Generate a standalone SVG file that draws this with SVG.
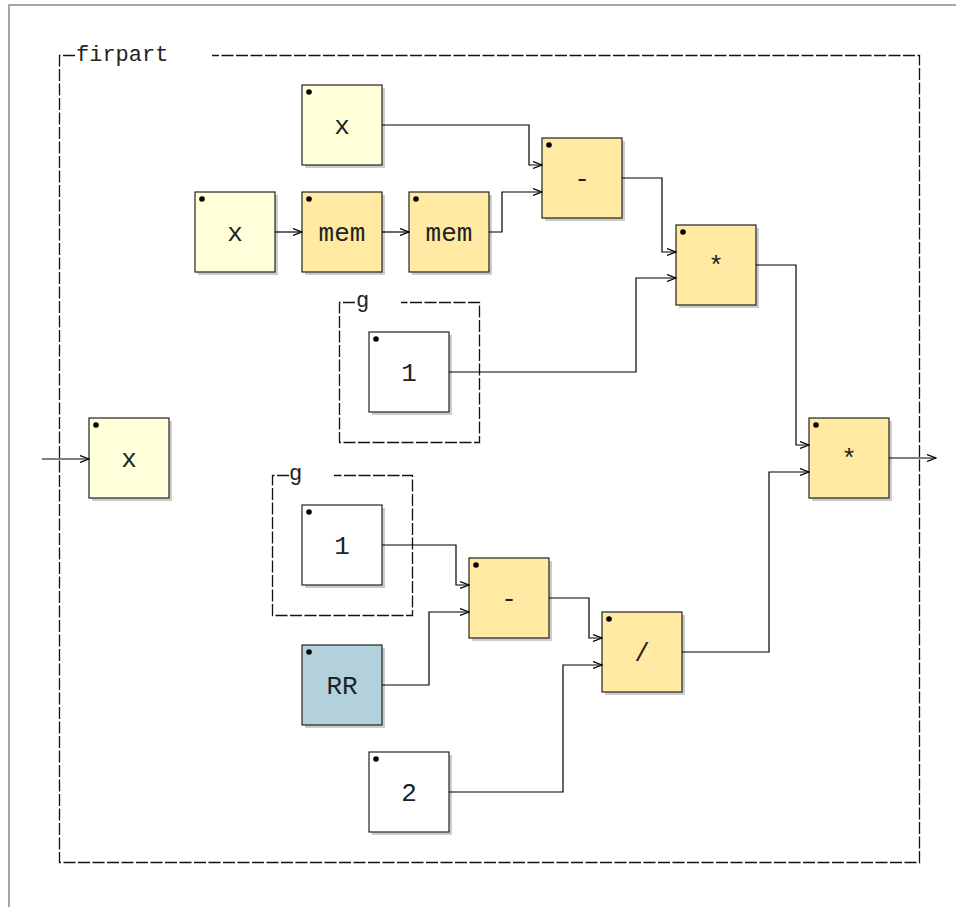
<svg xmlns="http://www.w3.org/2000/svg" width="956" height="907" viewBox="0 0 956 907">
<defs>
<marker id="ar" markerWidth="10" markerHeight="8" refX="9" refY="4" orient="auto" markerUnits="userSpaceOnUse">
<path d="M0,0.5 L9,4 L0,7.5" fill="none" stroke="#000" stroke-width="1.2"/>
</marker>
</defs>
<style>
.sh{fill:#cccccc;stroke:none}
.bx{stroke:#222;stroke-width:1.2}
.in{fill:#ffffda}
.op{fill:#ffe9a3}
.num{fill:#ffffff}
.ui{fill:#b3d1dc}
.dot{fill:#000}
.lb{font-family:"Liberation Mono",monospace;font-size:26px;text-anchor:middle;fill:#222}
.fl{font-family:"Liberation Mono",monospace;font-size:22px;fill:#222}
.fr{fill:none;stroke:#111;stroke-width:1.3;stroke-dasharray:12,2.5}
.w{fill:none;stroke:#000;stroke-width:1.2}
</style>
<rect x="0" y="0" width="956" height="907" fill="#ffffff"/>
<rect x="9" y="5" width="960" height="920" fill="none" stroke="#888" stroke-width="1.5"/>
<g id="frame-firpart">
<path class="fr" d="M75,55.5 H59.5 V862.5 H919.5 V55.5 H212"/>
<text class="fl" x="76" y="61">firpart</text>
</g>
<g id="frame-g1">
<path class="fr" d="M355,302.5 H339.5 V442.5 H479.5 V302.5 H401"/>
<text class="fl" x="356" y="307">g</text>
</g>
<g id="frame-g2">
<path class="fr" d="M289,475.5 H272.5 V615.5 H412.5 V475.5 H334"/>
<text class="fl" x="289" y="480">g</text>
</g>
<g id="n-x-in">
<rect class="sh" x="92" y="421" width="80" height="80"/>
<rect class="bx in" x="89" y="418" width="80" height="80"/>
<circle class="dot" cx="96" cy="425" r="2.8"/>
<text class="lb" x="129" y="467">x</text>
</g>
<g id="n-x-top">
<rect class="sh" x="305" y="88" width="80" height="80"/>
<rect class="bx in" x="302" y="85" width="80" height="80"/>
<circle class="dot" cx="309" cy="92" r="2.8"/>
<text class="lb" x="342" y="134">x</text>
</g>
<g id="n-x-mid">
<rect class="sh" x="198" y="195" width="80" height="80"/>
<rect class="bx in" x="195" y="192" width="80" height="80"/>
<circle class="dot" cx="202" cy="199" r="2.8"/>
<text class="lb" x="235" y="241">x</text>
</g>
<g id="n-mem1">
<rect class="sh" x="305" y="195" width="80" height="80"/>
<rect class="bx op" x="302" y="192" width="80" height="80"/>
<circle class="dot" cx="309" cy="199" r="2.8"/>
<text class="lb" x="342" y="241">mem</text>
</g>
<g id="n-mem2">
<rect class="sh" x="412" y="195" width="80" height="80"/>
<rect class="bx op" x="409" y="192" width="80" height="80"/>
<circle class="dot" cx="416" cy="199" r="2.8"/>
<text class="lb" x="449" y="241">mem</text>
</g>
<g id="n-sub1">
<rect class="sh" x="545" y="141" width="80" height="80"/>
<rect class="bx op" x="542" y="138" width="80" height="80"/>
<circle class="dot" cx="549" cy="145" r="2.8"/>
<text class="lb" x="582" y="187">-</text>
</g>
<g id="n-mul1">
<rect class="sh" x="679" y="228" width="80" height="80"/>
<rect class="bx op" x="676" y="225" width="80" height="80"/>
<circle class="dot" cx="683" cy="232" r="2.8"/>
<text class="lb" x="716" y="274">*</text>
</g>
<g id="n-one1">
<rect class="sh" x="372" y="335" width="80" height="80"/>
<rect class="bx num" x="369" y="332" width="80" height="80"/>
<circle class="dot" cx="376" cy="339" r="2.8"/>
<text class="lb" x="409" y="381">1</text>
</g>
<g id="n-one2">
<rect class="sh" x="305" y="508" width="80" height="80"/>
<rect class="bx num" x="302" y="505" width="80" height="80"/>
<circle class="dot" cx="309" cy="512" r="2.8"/>
<text class="lb" x="342" y="554">1</text>
</g>
<g id="n-rr">
<rect class="sh" x="305" y="648" width="80" height="80"/>
<rect class="bx ui" x="302" y="645" width="80" height="80"/>
<circle class="dot" cx="309" cy="652" r="2.8"/>
<text class="lb" x="342" y="694">RR</text>
</g>
<g id="n-two">
<rect class="sh" x="372" y="755" width="80" height="80"/>
<rect class="bx num" x="369" y="752" width="80" height="80"/>
<circle class="dot" cx="376" cy="759" r="2.8"/>
<text class="lb" x="409" y="801">2</text>
</g>
<g id="n-sub2">
<rect class="sh" x="472" y="561" width="80" height="80"/>
<rect class="bx op" x="469" y="558" width="80" height="80"/>
<circle class="dot" cx="476" cy="565" r="2.8"/>
<text class="lb" x="509" y="607">-</text>
</g>
<g id="n-div">
<rect class="sh" x="605" y="615" width="80" height="80"/>
<rect class="bx op" x="602" y="612" width="80" height="80"/>
<circle class="dot" cx="609" cy="619" r="2.8"/>
<text class="lb" x="642" y="661">/</text>
</g>
<g id="n-mul2">
<rect class="sh" x="812" y="421" width="80" height="80"/>
<rect class="bx op" x="809" y="418" width="80" height="80"/>
<circle class="dot" cx="816" cy="425" r="2.8"/>
<text class="lb" x="849" y="467">*</text>
</g>
<g id="connectors">
<path class="w" marker-end="url(#ar)" d="M42,459 H89"/>
<path class="w" marker-end="url(#ar)" d="M382,125 H529 V165 H542"/>
<path class="w" marker-end="url(#ar)" d="M275,232 H302"/>
<path class="w" marker-end="url(#ar)" d="M382,232 H409"/>
<path class="w" marker-end="url(#ar)" d="M489,232 H502 V192 H542"/>
<path class="w" marker-end="url(#ar)" d="M622,178 H662 V252 H676"/>
<path class="w" marker-end="url(#ar)" d="M449,372 H636 V278 H676"/>
<path class="w" marker-end="url(#ar)" d="M756,265 H796 V445 H809"/>
<path class="w" marker-end="url(#ar)" d="M382,545 H456 V585 H469"/>
<path class="w" marker-end="url(#ar)" d="M382,685 H429 V612 H469"/>
<path class="w" marker-end="url(#ar)" d="M549,598 H589 V638 H602"/>
<path class="w" marker-end="url(#ar)" d="M449,792 H563 V665 H602"/>
<path class="w" marker-end="url(#ar)" d="M682,652 H769 V472 H809"/>
<path class="w" marker-end="url(#ar)" d="M889,458 H936"/>
</g>
</svg>
